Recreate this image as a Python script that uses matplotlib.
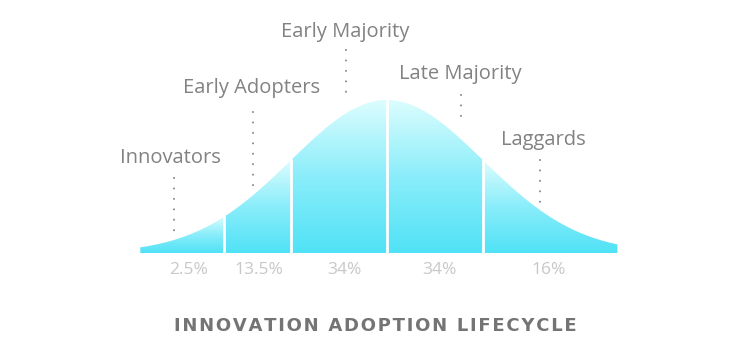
import numpy as np
import matplotlib.pyplot as plt
from matplotlib.patches import Polygon

# adoption segments (in standard deviations from the mean)
groups = ['Innovators', 'Early Adopters', 'Early Majority', 'Late Majority', 'Laggards']
shares = ['2.5%', '13.5%', '34%', '34%', '16%']
edges = [-2.57, -1.70, -1.0, 0.0, 1.0, 2.40]

# label anchors: text position and dotted leader (x, y_top, y_bottom)
label_x = [-2.26, -1.41, -0.44, 0.76, 1.625]
label_y = [0.62, 1.078, 1.444, 1.17, 0.739]
lead_x = [-2.22, -1.40, -0.43, 0.77, 1.59]
lead_top = [0.49, 0.92, 1.327, 1.03, 0.61]
lead_bot = [0.137, 0.43, 1.05, 0.89, 0.31]
share_x = [-2.07, -1.34, -0.44, 0.55, 1.68]


def bell(x):
    return np.exp(-0.5 * x ** 2)


plt.rcParams['font.family'] = ['Open Sans', 'DejaVu Sans']

fig = plt.figure(figsize=(7.5, 3.5), dpi=100)
ax = fig.add_axes([0, 0, 1, 1])
ax.set_xlim(-387 / 96, (750 - 387) / 96)
ax.set_ylim(-97 / 153, (350 - 97) / 153)
ax.axis('off')

grad = np.linspace(0, 1, 256).reshape(-1, 1)
cmap = plt.matplotlib.colors.LinearSegmentedColormap.from_list(
    'aqua', ['#50e2f6', '#8aedfa', '#dcfdfe'])

for i in range(len(groups)):
    x0, x1 = edges[i], edges[i + 1]
    xs = np.linspace(x0, x1, 200)
    ys = bell(xs)
    verts = np.column_stack([np.r_[x0, xs, x1], np.r_[0, ys, 0]])
    poly = Polygon(verts, closed=True, facecolor='none', edgecolor='none')
    ax.add_patch(poly)
    im = ax.imshow(grad, extent=(x0, x1, 0, ys.max()), origin='lower',
                   cmap=cmap, aspect='auto', interpolation='bicubic')
    im.set_clip_path(poly)

# white separators between groups
for e in edges[1:-1]:
    ax.plot([e, e], [0, bell(e)], color='white', lw=2)

for i, g in enumerate(groups):
    ax.text(label_x[i], label_y[i], g, ha='center', va='center',
            fontsize=14.5, color='#828282')
    ax.plot([lead_x[i], lead_x[i]], [lead_top[i], lead_bot[i]], color='#8a8a8a',
            lw=1.5, ls=(0, (0.01, 5)), dash_capstyle='round')
    ax.text(share_x[i], -0.111, shares[i], ha='center', va='center',
            fontsize=12.5, color='#c8c8c8')

title = '\u200a'.join('INNOVATION ADOPTION LIFECYCLE')
fig.text(0.5, 1 - 326 / 350, title, ha='center', va='center',
         fontsize=13, fontweight='bold', color='#747474',
         family=['DejaVu Sans'])

fig.savefig('out.png', dpi=100, facecolor='white')
